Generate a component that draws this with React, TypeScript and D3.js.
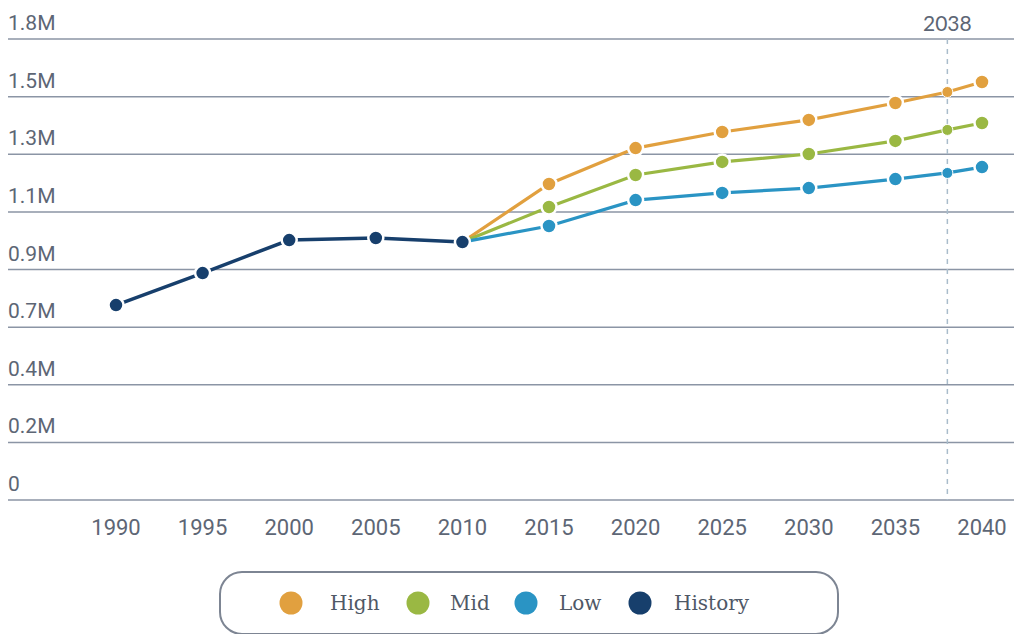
import React from "react";
import * as d3 from "d3";

// Years on the horizontal axis
const years = [1990, 1995, 2000, 2005, 2010, 2015, 2020, 2025, 2030, 2035, 2040];

// Historical totals (1990–2010)
const historyYears = [1990, 1995, 2000, 2005, 2010];
const historyValues = [761000, 886000, 1015000, 1023000, 1007000];

// Forecast scenarios, starting from the 2010 observation
const forecastYears = [2010, 2015, 2020, 2025, 2030, 2035, 2038, 2040];
const highValues = [1007000, 1234000, 1374000, 1437000, 1484000, 1550000, 1593000, 1632000];
const midValues = [1007000, 1144000, 1269000, 1320000, 1351000, 1402000, 1445000, 1472000];
const lowValues = [1007000, 1070000, 1171000, 1199000, 1218000, 1253000, 1277000, 1300000];

// Gridline values and their printed labels
const yTickValues = [0, 225000, 450000, 675000, 900000, 1125000, 1350000, 1575000, 1800000];
const yTickLabels = ["0", "0.2M", "0.4M", "0.7M", "0.9M", "1.1M", "1.3M", "1.5M", "1.8M"];

const markerYear = 2038;

const seriesNames = ["High", "Mid", "Low", "History"];
const seriesColors = ["#E1A03F", "#9AB843", "#2A94C4", "#173F6C"];

const W = 1014;
const H = 634;

export default function App() {
  const x = d3.scaleLinear().domain([1990, 2040]).range([116, 982]);
  const y = d3.scaleLinear().domain([0, 1800000]).range([500, 39]);

  const line = d3
    .line<[number, number]>()
    .x((d) => x(d[0]))
    .y((d) => y(d[1]));

  const forecasts = [
    { name: "High", values: highValues, color: seriesColors[0] },
    { name: "Mid", values: midValues, color: seriesColors[1] },
    { name: "Low", values: lowValues, color: seriesColors[2] },
  ];

  const history = historyYears.map((yr, i) => [yr, historyValues[i]] as [number, number]);

  const axisColor = "#5d6675";
  const gridColor = "#8b95a5";

  // legend layout
  const legendBox = { x: 220, y: 572, w: 618, h: 62, r: 22 };
  const legendItems = [
    { cx: 291, tx: 330 },
    { cx: 418, tx: 450 },
    { cx: 526, tx: 559 },
    { cx: 640, tx: 674 },
  ];

  return (
    <svg
      width={W}
      height={H}
      viewBox={`0 0 ${W} ${H}`}
      style={{ position: "absolute", left: 0, top: 0, background: "#fff" }}
    >
      {/* horizontal gridlines with labels above them */}
      {yTickValues.map((v, i) => (
        <g key={`g${i}`}>
          <line x1={8} x2={W} y1={y(v)} y2={y(v)} stroke={gridColor} strokeWidth={1.5} />
          <text
            x={8}
            y={y(v) - 9}
            fill={axisColor}
            fontFamily="Roboto, sans-serif"
            fontSize={21}
          >
            {yTickLabels[i]}
          </text>
        </g>
      ))}

      {/* x axis labels */}
      {years.map((yr) => (
        <text
          key={`x${yr}`}
          x={x(yr)}
          y={535}
          textAnchor="middle"
          fill={axisColor}
          fontFamily="Roboto, sans-serif"
          fontSize={22}
        >
          {yr}
        </text>
      ))}

      {/* 2038 reference line */}
      <line
        x1={x(markerYear)}
        x2={x(markerYear)}
        y1={y(1800000)}
        y2={y(0)}
        stroke="#a9bccb"
        strokeWidth={1.5}
        strokeDasharray="5 5"
      />
      <text
        x={x(markerYear)}
        y={31}
        textAnchor="middle"
        fill={axisColor}
        fontFamily="Lato, sans-serif"
        fontSize={21}
      >
        {markerYear}
      </text>

      {/* forecast scenarios */}
      {forecasts.map((s) => {
        const pts = forecastYears.map((yr, i) => [yr, s.values[i]] as [number, number]);
        return (
          <g key={s.name}>
            <path d={line(pts) || ""} fill="none" stroke={s.color} strokeWidth={3.2} />
            {pts.slice(1).map((p) => (
              <circle
                key={p[0]}
                cx={x(p[0])}
                cy={y(p[1])}
                r={p[0] === markerYear ? 5.5 : 7.5}
                fill={s.color}
                stroke="#fff"
                strokeWidth={p[0] === markerYear ? 1 : 2.5}
              />
            ))}
          </g>
        );
      })}

      {/* history */}
      <path d={line(history) || ""} fill="none" stroke={seriesColors[3]} strokeWidth={3.5} />
      {history.map((p) => (
        <circle
          key={p[0]}
          cx={x(p[0])}
          cy={y(p[1])}
          r={7.5}
          fill={seriesColors[3]}
          stroke="#fff"
          strokeWidth={2.5}
        />
      ))}

      {/* legend */}
      <rect
        x={legendBox.x}
        y={legendBox.y}
        width={legendBox.w}
        height={legendBox.h}
        rx={legendBox.r}
        ry={legendBox.r}
        fill="none"
        stroke="#7d8593"
        strokeWidth={2}
      />
      {seriesNames.map((name, i) => (
        <g key={name}>
          <circle cx={legendItems[i].cx} cy={603} r={11.5} fill={seriesColors[i]} />
          <text
            x={legendItems[i].tx}
            y={610}
            fill="#4f5866"
            fontFamily="'DejaVu Serif', serif"
            fontSize={20}
          >
            {name}
          </text>
        </g>
      ))}
    </svg>
  );
}
